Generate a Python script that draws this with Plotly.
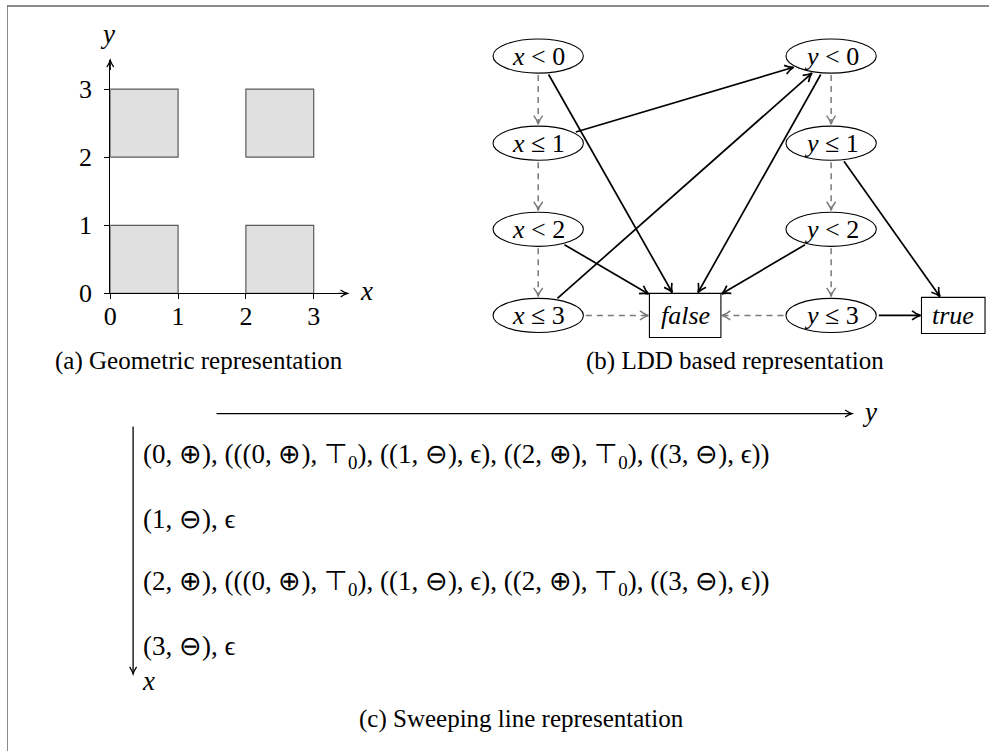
import math
import plotly.graph_objects as go

W, H = 996, 751          # drawing canvas, in drawing pixels
OX = 7                   # drawing x that sits at the figure's left edge
FW = W - OX              # figure width handed to plotly
FH = 767                 # figure height handed to plotly (drawing rows are stretched onto it)
SERIF = "Liberation Serif"

# ---------------------------------------------------------------- data
# (a) the four filled cells of the region, as [x0, x1] x [y0, y1]
rect_x0 = [0, 2, 0, 2]
rect_x1 = [1, 3, 1, 3]
rect_y0 = [0, 0, 2, 2]
rect_y1 = [1, 1, 3, 3]
axis_ticks = [0, 1, 2, 3]

# (b) LDD nodes: id -> label
ldd_labels = {
    "x0": "<i>x</i> < 0", "x1": "<i>x</i> ≤ 1", "x2": "<i>x</i> < 2", "x3": "<i>x</i> ≤ 3",
    "y0": "<i>y</i> < 0", "y1": "<i>y</i> ≤ 1", "y2": "<i>y</i> < 2", "y3": "<i>y</i> ≤ 3",
    "F": "<i>false</i>", "T": "<i>true</i>",
}
ldd_high = [("x0", "F"), ("x1", "y0"), ("x2", "F"), ("x3", "y0"),
            ("y0", "F"), ("y1", "T"), ("y2", "F"), ("y3", "T")]
ldd_low = [("x0", "x1"), ("x1", "x2"), ("x2", "x3"), ("x3", "F"),
           ("y0", "y1"), ("y1", "y2"), ("y2", "y3"), ("y3", "F")]

# (c) sweep events along x and the y-profile attached to them
x_events = [0, 1, 2, 3]
x_signs = ["⊕", "⊖", "⊕", "⊖"]
y_events = [0, 1, 2, 3]
y_signs = ["⊕", "⊖", "⊕", "⊖"]
y_values = ["⊤<sub>0</sub>", "ϵ", "⊤<sub>0</sub>", "ϵ"]
x_has_profile = [True, False, True, False]

captions = ["(a) Geometric representation", "(b) LDD based representation",
            "(c) Sweeping line representation"]

# ---------------------------------------------------------------- layout constants
GX0, GY0 = 111, 293          # drawing position of the origin of panel (a)
UX, UY = 68.3, 68.0          # drawing pixels per unit
GX_END, GY_END = 350, 60     # axis arrow tips

COL_X = {"x": 542, "y": 837}
ROW_Y = [56, 143, 229, 315]
ELL_RX, ELL_RY = 45.5, 17
node_pos = {}
for i in range(4):
    node_pos["x%d" % i] = (COL_X["x"], ROW_Y[i])
    node_pos["y%d" % i] = (COL_X["y"], ROW_Y[i])
node_pos["F"] = (690, 315)
node_pos["T"] = (960, 315)
box_half = {"F": (36, 22), "T": (32, 18)}


def paper_x(px):
    return (px - OX) / FW


def paper_y(py):
    return 1 - py / H


fig = go.Figure()

# ---------------------------------------------------------------- panel (a)
xs, ys = [], []
for a, b, c, d in zip(rect_x0, rect_x1, rect_y0, rect_y1):
    xs += [a, b, b, a, a, None]
    ys += [c, c, d, d, c, None]
fig.add_trace(go.Scatter(x=xs, y=ys, mode="lines", fill="toself",
                         fillcolor="#e0e0e0", line=dict(color="#5a5a5a", width=1.2),
                         hoverinfo="skip", showlegend=False, xaxis="x", yaxis="y"))

axis_common = dict(showline=True, linecolor="black", linewidth=1.2, ticks="outside",
                   ticklen=5, tickwidth=1.2, tickcolor="black", tickvals=axis_ticks,
                   showgrid=False, zeroline=False,
                   tickfont=dict(family=SERIF, size=26, color="black"))
fig.update_layout(
    xaxis=dict(domain=[paper_x(GX0), paper_x(GX_END)], range=[0, (GX_END - GX0) / UX],
               anchor="y", ticklabelstandoff=-6, **axis_common),
    yaxis=dict(domain=[paper_y(GY0), paper_y(GY_END)], range=[0, (GY0 - GY_END) / UY],
               anchor="x", ticklabelstandoff=7, **axis_common),
    # drawing-pixel overlay for the diagrams and text
    xaxis2=dict(domain=[0, 1], range=[OX, W], visible=False, anchor="y2", fixedrange=True),
    yaxis2=dict(domain=[0, 1], range=[H, 0], visible=False, anchor="x2", fixedrange=True),
)
fig.add_trace(go.Scatter(x=[OX], y=[0], mode="markers", marker=dict(opacity=0),
                         hoverinfo="skip", showlegend=False, xaxis="x2", yaxis="y2"))

shapes, annos = [], []


def text(x, y, s, size=25, xanchor="center", color="black"):
    annos.append(dict(x=x, y=y, xref="x2", yref="y2", text=s, showarrow=False,
                      xanchor=xanchor, yanchor="middle",
                      font=dict(family=SERIF, size=size, color=color)))


def arrow(x0, y0, x1, y1, color="black", width=1.6, dash=None, head=8.5, spread=4.5):
    shapes.append(dict(type="line", xref="x2", yref="y2", x0=x0, y0=y0, x1=x1, y1=y1,
                       line=dict(color=color, width=width, dash=dash or "solid")))
    L = math.hypot(x1 - x0, y1 - y0)
    dx, dy = (x1 - x0) / L, (y1 - y0) / L
    nx, ny = -dy, dx
    bx, by = x1 - head * dx, y1 - head * dy
    p1 = (bx + spread * nx, by + spread * ny)
    p2 = (bx - spread * nx, by - spread * ny)
    c1 = (x1 - 0.45 * head * dx + 0.9 * nx, y1 - 0.45 * head * dy + 0.9 * ny)
    c2 = (x1 - 0.45 * head * dx - 0.9 * nx, y1 - 0.45 * head * dy - 0.9 * ny)
    path = "M %.2f,%.2f Q %.2f,%.2f %.2f,%.2f Q %.2f,%.2f %.2f,%.2f" % (
        p1[0], p1[1], c1[0], c1[1], x1, y1, c2[0], c2[1], p2[0], p2[1])
    shapes.append(dict(type="path", xref="x2", yref="y2", path=path,
                       line=dict(color=color, width=width)))


# axis arrow tips and axis names of panel (a)
arrow(GX_END - 10, GY0, GX_END, GY0, width=1.2, head=7, spread=3.5)
arrow(GX0, GY_END + 10, GX0, GY_END, width=1.2, head=7, spread=3.5)
text(GX_END + 19, GY0 - 2, "<i>x</i>", size=27)
text(GX0 - 3, GY_END - 26, "<i>y</i>", size=27)

# ---------------------------------------------------------------- panel (b)


def clip(nid, dx, dy):
    """distance from a node centre to its border along unit direction (dx, dy)"""
    if nid in box_half:
        hw, hh = box_half[nid]
        t = min(hw / abs(dx) if dx else 1e9, hh / abs(dy) if dy else 1e9)
        return t + 1
    rx, ry = ELL_RX + 0.5, ELL_RY
    return 1 / math.sqrt((dx / rx) ** 2 + (dy / ry) ** 2) + 2


def edge(a, b, **kw):
    (xa, ya), (xb, yb) = node_pos[a], node_pos[b]
    L = math.hypot(xb - xa, yb - ya)
    dx, dy = (xb - xa) / L, (yb - ya) / L
    ta, tb = clip(a, dx, dy), clip(b, -dx, -dy)
    arrow(xa + ta * dx, ya + ta * dy, xb - tb * dx, yb - tb * dy, **kw)


for a, b in ldd_low:
    edge(a, b, color="#7a7a7a", width=1.5, dash="6px,5px")
for a, b in ldd_high:
    edge(a, b, color="black", width=1.7)

for nid, (cx, cy) in node_pos.items():
    if nid in box_half:
        hw, hh = box_half[nid]
        shapes.append(dict(type="rect", xref="x2", yref="y2", x0=cx - hw, x1=cx + hw,
                           y0=cy - hh, y1=cy + hh, fillcolor="white",
                           line=dict(color="black", width=1.1)))
    else:
        shapes.append(dict(type="circle", xref="x2", yref="y2", x0=cx - ELL_RX,
                           x1=cx + ELL_RX, y0=cy - ELL_RY, y1=cy + ELL_RY,
                           fillcolor="white", line=dict(color="black", width=1.1)))
    text(cx, cy, ldd_labels[nid], size=26)

# ---------------------------------------------------------------- panel (c)
arrow(218, 413, 858, 413, width=1.3, head=7, spread=3.5)
text(876, 411, "<i>y</i>", size=27)
arrow(134, 426, 134, 673, width=1.3, head=7, spread=3.5)
text(150, 680, "<i>x</i>", size=27)

profile = ", ".join("((%d, %s), %s)" % (v, s, t) for v, s, t in zip(y_events, y_signs, y_values))
ROWS_Y = [455, 518, 582, 645]
for v, s, has, ry in zip(x_events, x_signs, x_has_profile, ROWS_Y):
    row = "(%d, %s), " % (v, s) + ("(" + profile + ")" if has else "ϵ")
    text(142, ry, row, xanchor="left", size=27)

# ---------------------------------------------------------------- captions
text(200, 361, captions[0], size=25)
text(740, 361, captions[1], size=25)
text(525, 718, captions[2], size=25)

# frame along the left and top edges
shapes.append(dict(type="path", xref="x2", yref="y2",
                   path="M 7,%d L 7,6 L %d,6" % (H + 20, W + 5),
                   line=dict(color="#666666", width=1.5)))

fig.update_layout(width=FW, height=FH, margin=dict(l=0, r=0, t=0, b=0),
                  paper_bgcolor="white", plot_bgcolor="rgba(0,0,0,0)",
                  shapes=shapes, annotations=annos, showlegend=False)
fig.write_html("out.html")
